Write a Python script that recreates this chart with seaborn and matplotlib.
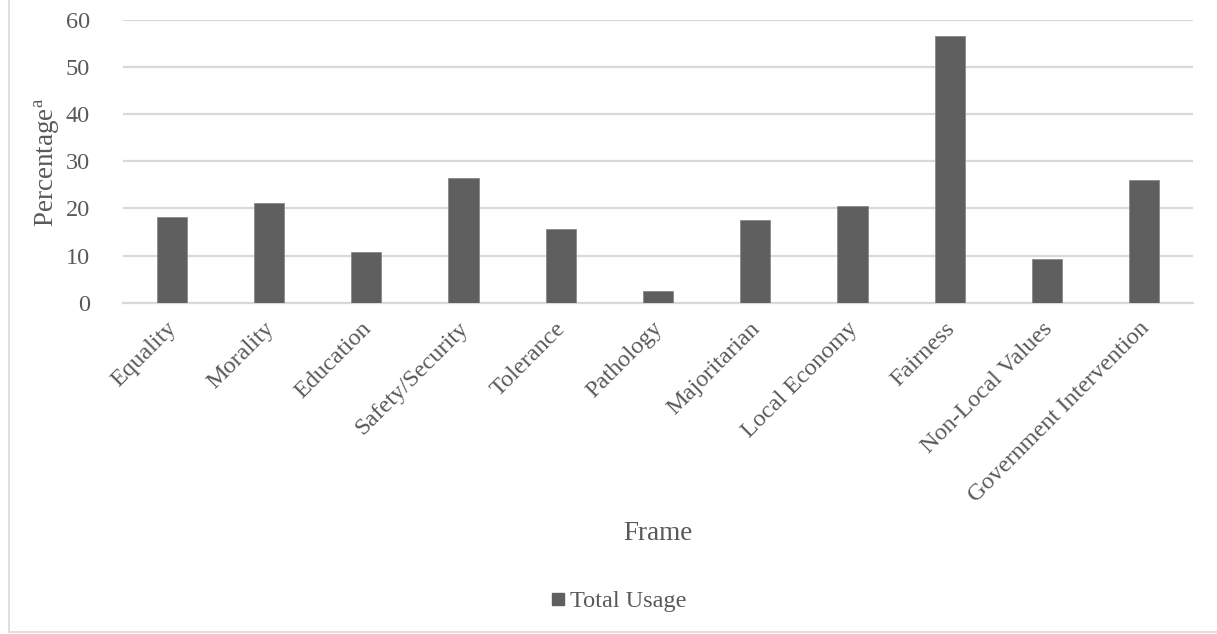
import matplotlib
matplotlib.use("Agg")
import matplotlib.pyplot as plt
import matplotlib.transforms as mtransforms
from matplotlib.lines import Line2D
import seaborn as sns
import pandas as pd

categories = ["Equality", "Morality", "Education", "Safety/Security", "Tolerance",
              "Pathology", "Majoritarian", "Local Economy", "Fairness",
              "Non-Local Values", "Government Intervention"]
total_usage = [18.2, 21.1, 10.8, 26.5, 15.6, 2.5, 17.6, 20.5, 56.6, 9.2, 26.1]
y_ticks = [0, 10, 20, 30, 40, 50, 60]
series_name = "Total Usage"

sns.set_theme(style="white")
plt.rcParams['font.family'] = ['Liberation Serif', 'DejaVu Serif']
plt.rcParams['mathtext.fontset'] = 'custom'
plt.rcParams['mathtext.rm'] = 'Liberation Serif'

TXT = "#595959"
BAR = "#5f5f5f"
GRID = "#d9d9d9"
FS = 17.5
FT = 19.5

W, H = 1217, 634
fig = plt.figure(figsize=(W / 100, H / 100), dpi=100)
fig.patch.set_facecolor("white")
ax = fig.add_axes([123 / W, 1 - 302.7 / H, (1193 - 123) / W, (302.7 - 20) / H])

df = pd.DataFrame({"Frame": categories, "Value": total_usage})
sns.barplot(data=df, x="Frame", y="Value", color=BAR, width=0.31, ax=ax,
            saturation=1, edgecolor="#8a8a8a", linewidth=0.6, zorder=3)

ax.set_ylim(0, 60)
ax.set_xlim(-0.5, len(categories) - 0.5)
ax.set_yticks(y_ticks)
ax.set_yticklabels([str(t) for t in y_ticks], fontsize=FS, color=TXT)
ax.yaxis.grid(True, color=GRID, linewidth=1.6, zorder=0)
ax.set_axisbelow(True)
for s in ["top", "right", "left"]:
    ax.spines[s].set_visible(False)
ax.spines["bottom"].set_color(GRID)
ax.spines["bottom"].set_linewidth(1.6)
ax.tick_params(axis="y", length=0, pad=24)
ax.tick_params(axis="x", length=0, pad=2)

ax.set_xticks(range(len(categories)))
ax.set_xticklabels(categories, rotation=45, ha="right", va="top",
                   rotation_mode="anchor", fontsize=FS, color=TXT)
offset = mtransforms.ScaledTranslation(-4 / 72, -9 / 72, fig.dpi_scale_trans)
for lbl in ax.get_xticklabels():
    lbl.set_transform(lbl.get_transform() + offset)

ax.set_xlabel("")
ax.set_ylabel("")
fig.text(658 / W, 1 - 533 / H, "Frame", ha="center", va="center",
         fontsize=FT, color=TXT)
fig.text(47 / W, 1 - 162 / H, r"Percentage$^{\mathrm{a}}$", ha="center", va="center",
         rotation=90, fontsize=FT, color=TXT)

handle = Line2D([0], [0], marker="s", linestyle="none", markersize=9,
                markerfacecolor=BAR, markeredgecolor=BAR)
leg = fig.legend([handle], [series_name], loc="center",
                 bbox_to_anchor=(619 / W, 1 - 601 / H), frameon=False,
                 fontsize=FS, handlelength=0.6, handletextpad=0.2)
for t in leg.get_texts():
    t.set_color(TXT)

# outer chart border (left and bottom visible)
fig.add_artist(Line2D([8.5 / W, 8.5 / W], [1 - 631.5 / H, 1.0], transform=fig.transFigure,
                      color=GRID, linewidth=1.2))
fig.add_artist(Line2D([8.5 / W, 1.0], [1 - 631.5 / H, 1 - 631.5 / H], transform=fig.transFigure,
                      color=GRID, linewidth=1.2))

fig.savefig("out.png", dpi=100, facecolor="white")
